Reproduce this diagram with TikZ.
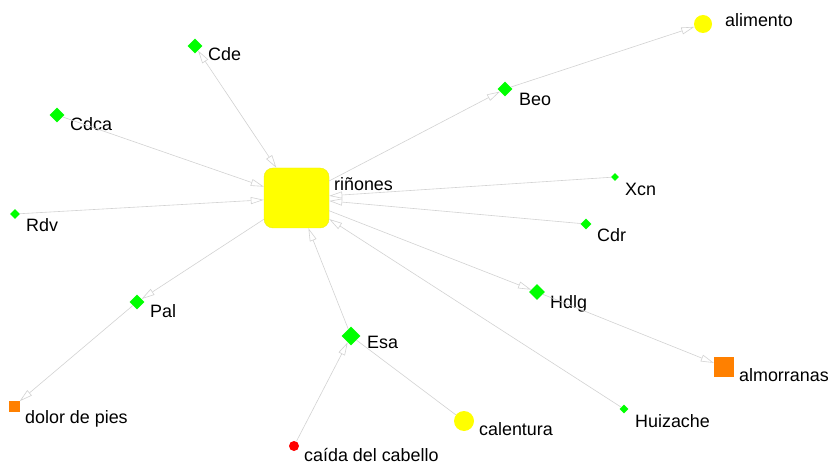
\documentclass[tikz,border=0pt]{standalone}
\usepackage{fontspec}
\setmainfont{Liberation Sans}
\usetikzlibrary{shapes.geometric,arrows.meta}
\definecolor{lime}{RGB}{0,255,0}
\definecolor{yel}{RGB}{255,255,0}
\definecolor{org}{RGB}{255,128,0}
\definecolor{edgegray}{RGB}{210,210,210}
\begin{document}
\begin{tikzpicture}[x=1pt,y=-1pt,
  dia/.style={diamond,fill=lime,inner sep=0pt,minimum size=#1},
  circ/.style={circle,fill=#1,inner sep=0pt},
  sq/.style={rectangle,fill=org,inner sep=0pt,minimum size=#1},
  lbl/.style={anchor=base west,inner sep=0pt,font=\fontsize{17.9}{20}\selectfont},
  edge/.style={draw=edgegray,line width=0.6pt},
  arr/.style={edge,-{Triangle[length=13pt,width=7pt,fill=white]}},
  barr/.style={edge,{Triangle[length=13pt,width=7pt,fill=white]}-{Triangle[length=13pt,width=7pt,fill=white]}}]
\useasboundingbox (0,0) rectangle (830,465);
% nodes
\node[rectangle,rounded corners=9pt,fill=yel,draw=yel!85!gray,line width=0.4pt,minimum width=65pt,minimum height=60pt,inner sep=0pt] (rin) at (296.5,198) {};
\node[dia=15pt] (cde) at (195,46) {};
\node[dia=15pt] (beo) at (505,89) {};
\node[circ=yel,minimum size=18pt] (ali) at (703,24) {};
\node[dia=15pt] (cdca) at (57,115) {};
\node[dia=10pt] (rdv) at (15,214) {};
\node[dia=15pt] (pal) at (137,302) {};
\node[sq=11pt] (dol) at (14,406) {};
\node[dia=19pt] (esa) at (351,336) {};
\node[circ=red,minimum size=10pt] (cai) at (294,446) {};
\node[circ=yel,minimum size=20pt] (cal) at (464,421) {};
\node[dia=8pt] (xcn) at (615,177) {};
\node[dia=11pt] (cdr) at (586,224) {};
\node[dia=16pt] (hdlg) at (537,292) {};
\node[sq=20pt] (alm) at (724,367) {};
\node[dia=9pt] (hui) at (624,409) {};
% labels
\node[lbl] (lrin) at (334,191) {riñones};
\node[lbl] (lcde) at (208,61) {Cde};
\node[lbl] (lbeo) at (519,106) {Beo};
\node[lbl] (lali) at (725,27) {alimento};
\node[lbl] (lcdca) at (70,131) {Cdca};
\node[lbl] (lrdv) at (26,232) {Rdv};
\node[lbl] (lpal) at (150,317) {Pal};
\node[lbl] (ldol) at (25,423) {dolor de pies};
\node[lbl] (lesa) at (367,348) {Esa};
\node[lbl] (lcai) at (304,461) {caída del cabello};
\node[lbl] (lcal) at (479,435) {calentura};
\node[lbl] (lxcn) at (625,196) {Xcn};
\node[lbl] (lcdr) at (597,242) {Cdr};
\node[lbl] (lhdlg) at (550,308) {Hdlg};
\node[lbl] (lalm) at (739,381) {almorranas};
\node[lbl] (lhui) at (635,427) {Huizache};
% edges
\draw[barr] (cde) -- (rin);
\draw[arr] (cdca) -- (rin);
\draw[arr] (rdv) -- (rin);
\draw[arr] (rin) -- (pal);
\draw[arr] (pal) -- (dol);
\draw[arr] (esa) -- (rin);
\draw[arr] (cai) -- (esa);
\draw[edge] (esa) -- (cal);
\draw[arr] (hui) -- (rin);
\draw[arr] (rin) -- (hdlg);
\draw[arr] (hdlg) -- (alm);
\draw[arr] (cdr) -- (rin);
\draw[arr] (xcn) -- (rin);
\draw[arr] (rin) -- (beo);
\draw[arr] (beo) -- (ali);
\end{tikzpicture}
\end{document}
